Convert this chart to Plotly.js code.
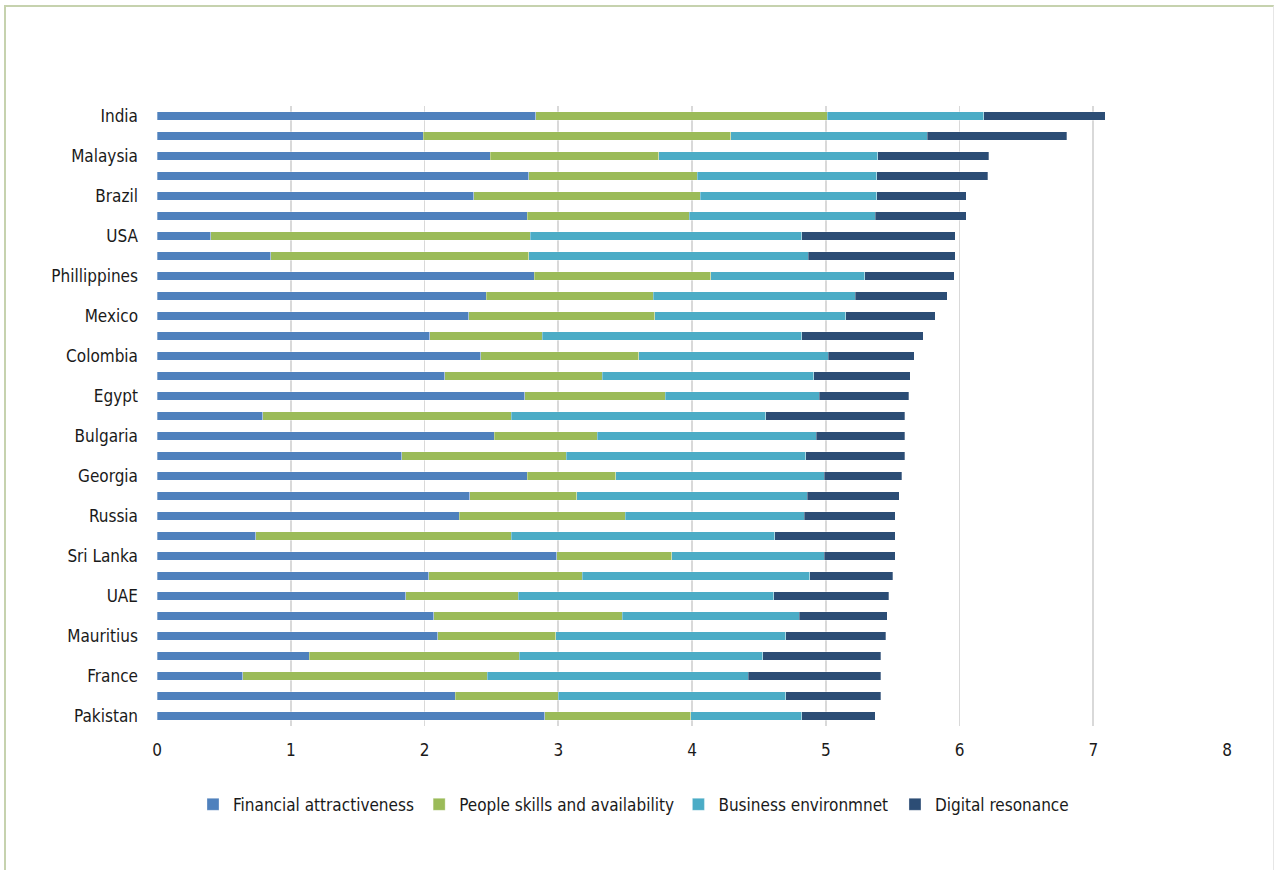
<!DOCTYPE html>
<html>
<head>
<meta charset="utf-8">
<script src="https://cdn.plot.ly/plotly-3.0.1.min.js"></script>
<style>
  html, body { margin: 0; padding: 0; background: #ffffff; }
  #wrap { position: relative; width: 1274px; height: 870px; overflow: hidden; }
  #chart { position: absolute; left: 0; top: 0; width: 1274px; height: 870px; }
  #chart svg text { font-stretch: condensed !important; }
  #frame { position: absolute; left: 4px; top: 5px; width: 1267px; height: 900px;
           border-top: 2px solid #c6d2ae; border-left: 2px solid #c6d2ae; border-right: 1px solid #e6e6e6;
           pointer-events: none; }
</style>
</head>
<body>
<div id="wrap">
  <div id="chart"></div>
  <div id="frame"></div>
</div>
<script>
// Row labels (only every other row is labelled in the original chart)
const countries = ["India", "", "Malaysia", "", "Brazil", "", "USA", "", "Phillippines", "",
  "Mexico", "", "Colombia", "", "Egypt", "", "Bulgaria", "", "Georgia", "",
  "Russia", "", "Sri Lanka", "", "UAE", "", "Mauritius", "", "France", "", "Pakistan"];

const seriesNames = ["Financial attractiveness", "People skills and availability",
  "Business environmnet", "Digital resonance"];

const financial = [2.83, 1.99, 2.49, 2.78, 2.37, 2.77, 0.40, 0.85, 2.82, 2.46,
  2.33, 2.04, 2.42, 2.15, 2.75, 0.79, 2.52, 1.83, 2.77, 2.34,
  2.26, 0.74, 2.99, 2.03, 1.86, 2.07, 2.10, 1.14, 0.64, 2.23, 2.90];

const people = [2.18, 2.30, 1.26, 1.26, 1.69, 1.21, 2.39, 1.93, 1.32, 1.25,
  1.39, 0.84, 1.18, 1.18, 1.05, 1.86, 0.77, 1.23, 0.66, 0.80,
  1.24, 1.91, 0.86, 1.15, 0.84, 1.41, 0.88, 1.57, 1.83, 0.77, 1.09];

const business = [1.17, 1.47, 1.64, 1.34, 1.32, 1.39, 2.03, 2.09, 1.15, 1.51,
  1.43, 1.94, 1.42, 1.58, 1.15, 1.90, 1.64, 1.79, 1.56, 1.72,
  1.34, 1.97, 1.14, 1.70, 1.91, 1.32, 1.72, 1.82, 1.95, 1.70, 0.83];

const digital = [0.91, 1.04, 0.83, 0.83, 0.67, 0.68, 1.15, 1.10, 0.67, 0.69,
  0.67, 0.91, 0.64, 0.72, 0.67, 1.04, 0.66, 0.74, 0.58, 0.69,
  0.68, 0.90, 0.53, 0.62, 0.86, 0.66, 0.75, 0.88, 0.99, 0.71, 0.55];

const xTicks = [0, 1, 2, 3, 4, 5, 6, 7, 8];

const colors = ["#4f81bd", "#9bbb59", "#4bacc6", "#2c4d75"];
const seriesValues = [financial, people, business, digital];
const legendIds = ["legend", "legend2", "legend3", "legend4"];
const legendX = [0.1515, 0.329, 0.5325, 0.7025];

const rowIdx = countries.map((_, i) => i);
const FONT = "DejaVu Sans";

const traces = seriesValues.map((vals, k) => ({
  type: "bar",
  orientation: "h",
  name: seriesNames[k],
  legend: legendIds[k],
  x: vals,
  y: rowIdx,
  marker: { color: colors[k], line: { color: "rgba(255,255,255,0.6)", width: 0.5 } },
  hoverinfo: "x+name"
}));

const labelled = rowIdx.filter(i => countries[i] !== "");

const layout = {
  width: 1274,
  height: 870,
  paper_bgcolor: "#ffffff",
  plot_bgcolor: "#ffffff",
  barmode: "stack",
  bargap: 0.58,
  margin: { l: 157, r: 47, t: 106, b: 144 },
  font: { family: FONT, size: 17, color: "#1a1a1a" },
  showlegend: true,
  xaxis: {
    range: [0, 8],
    tickvals: xTicks,
    ticktext: xTicks.map(String),
    showgrid: true,
    gridcolor: "#d9d9d9",
    gridwidth: 1.6,
    zeroline: false,
    showline: false,
    ticks: "",
    ticklabelstandoff: 12,
    fixedrange: true
  },
  yaxis: {
    type: "linear",
    range: [countries.length - 0.5, -0.5],
    tickvals: labelled,
    ticktext: labelled.map(i => countries[i]),
    showgrid: false,
    zeroline: false,
    showline: false,
    ticks: "",
    ticklabelstandoff: 18,
    fixedrange: true
  }
};

legendIds.forEach((id, k) => {
  layout[id] = {
    orientation: "h",
    xref: "container", yref: "container",
    x: legendX[k], xanchor: "left",
    y: 0.075, yanchor: "middle",
    font: { family: FONT, size: 17, color: "#1a1a1a" },
    itemwidth: 30,
    bgcolor: "rgba(0,0,0,0)"
  };
});

Plotly.newPlot("chart", traces, layout, { displayModeBar: false, staticPlot: true });
</script>
</body>
</html>
